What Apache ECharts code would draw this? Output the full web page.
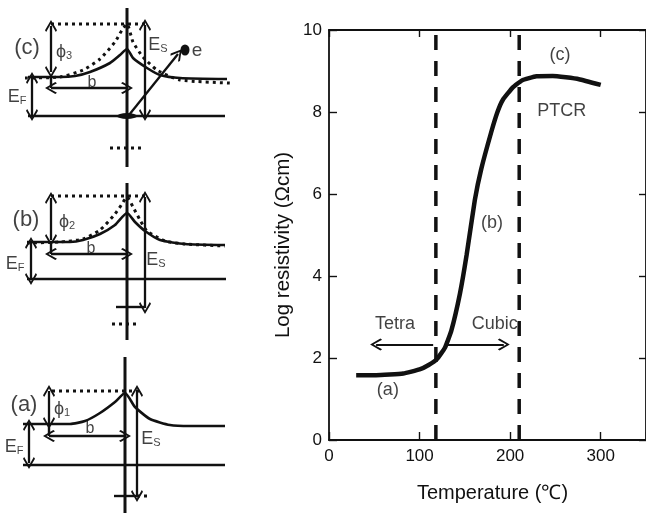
<!DOCTYPE html>
<html><head><meta charset="utf-8">
<style>html,body{margin:0;padding:0;background:#fff}#c{width:646px;height:514px}</style>
<script src="https://cdn.jsdelivr.net/npm/echarts@6/dist/echarts.min.js"></script>
</head><body><div id="c"></div>
<script>
// ---- Main graph data (temperature in deg C, log resistivity) ----
const curve = [[30,1.58],[52,1.58],[82,1.62],[100,1.72],[110,1.83],[119,1.97],[128,2.25],[135,2.66],[144.5,3.56],[152,4.52],[161,5.85],[168,6.6],[179,7.5],[186,8.0],[192,8.3],[203,8.6],[213,8.77],[229,8.87],[247,8.88],[276,8.8],[300,8.66]];
const phaseT1 = [[118,0],[118,9.9]];
const phaseT2 = [[210,0],[210,9.9]];
const xTicks = [0,100,200,300];
const yTicks = [0,2,4,6,8,10];
const graphArrows = [[[115,2.33],[52,2.33]],[[128,2.33],[193,2.33]]];
const graphText = [[255,9.4,'(c)'],[257,8.03,'PTCR'],[180,5.3,'(b)'],[73,2.82,'Tetra'],[183,2.82,'Cubic'],[65,1.23,'(a)']];

// ---- Band schematics (in a 260 x 514 sketch plane, y downward) ----
const verticals = [[[127,8],[127,167]],[[127,183],[127,340]],[[125,357],[125,513]]];
const baselines = [[[28,116],[225,116]],[[27,279],[226,279]],[[23,465],[225,465]]];
const bandC = [[28,77],[60,77],[75,76],[90,72],[110,63],[120,55],[127,49],[133,58],[147,68],[160,75],[180,78],[227,79]];
const bandB = [[27,242],[70,242],[83,240],[100,234],[115,225],[127,213],[135,222],[145,231],[160,240],[185,244],[225,245]];
const bandA = [[23,424],[70,424],[85,421],[100,413],[115,402],[125,393],[135,407],[150,419],[170,425],[190,426],[225,426]];
const dotC = [[25,78],[60,77],[83,70],[100,59],[115,42],[122,30],[127,24],[133,42],[143,57],[157,70],[180,80],[230,83]];
const dotB = [[27,243],[60,242],[83,239],[100,230],[115,214],[122,204],[127,197],[133,207],[140,220],[147,231],[165,241],[185,244],[225,246]];
const dotTops = [[[51,24],[146,24]],[[51,196],[146,196]],[[52,391],[142,391]]];
const dotLows = [[[110,148],[142,148]],[[112,324],[138,324]],[[137,496],[148,496]]];
const solidTicks = [[[51,77],[51,88]],[[51,242],[51,254]],[[49,424],[49,436]],[[116,307],[145,307]],[[114,496],[137,496]]];
const arrowsBoth = [
  [[51,26],[51,72]],[[145,25],[145,115]],[[32,78],[32,115]],[[51,88],[127,88]],
  [[51,198],[51,240]],[[145,197],[145,308]],[[31,243],[31,279]],[[51,254],[127,254]],
  [[49,391],[49,423]],[[137,391],[137,496]],[[29,425],[29,463]],[[49,436],[125,436]]];
const arrowsOne = [[[129,115],[178,54]]];
const blobs = [[185,50,9,11],[127,116,20,6]];
const sketchLabels = [[27,48,'(c)',22],[26,220,'(b)',22],[24,405,'(a)',22],[92,83,'b',16],[91,249,'b',16],[90,429,'b',16],[197,51,'e',19]];
const sketchSubs = [[64,52,'ϕ','3'],[67,222,'ϕ','2'],[62,409,'ϕ','1'],[158,45,'E','S'],[156,260,'E','S'],[151,439,'E','S'],[17,97,'E','F'],[15,264,'E','F'],[14,447,'E','F']];

const FONT = '"Liberation Sans", Arial, sans-serif';
const INK = '#111';
const TEXT = '#111';
const chevron = 'path://M0,0 L10,12 L8,14 L0,4 L-8,14 L-10,12 Z';
const sk = {xAxisIndex:2, yAxisIndex:2, silent:true, animation:false};

function poly(data, width, dash, smooth){
  return Object.assign({type:'line', data, showSymbol:false, symbol:'none', smooth: smooth||false, z:3,
    lineStyle:{color:INK, width, type: dash||'solid'}}, sk);
}
function segs(list, width, dash){ return list.map(d => poly(d, width, dash)); }
function arrows(list, sym, size, width, xi, yi){
  return {type:'lines', coordinateSystem:'cartesian2d', xAxisIndex:xi, yAxisIndex:yi, silent:true, animation:false, z:4,
    symbol:sym, symbolSize:size, polyline:false,
    lineStyle:{color:INK, width, opacity:1, curveness:0},
    data:list.map(c => ({coords:c}))};
}

const series = [
  {type:'line', data:curve, smooth:0.12, symbol:'none', z:5, animation:false, lineStyle:{color:INK, width:4.5}},
  {type:'line', data:phaseT1, symbol:'none', z:4, animation:false, lineStyle:{color:INK, width:3.5, type:[15,11]}},
  {type:'line', data:phaseT2, symbol:'none', z:4, animation:false, lineStyle:{color:INK, width:3.5, type:[15,11]}},
  arrows(graphArrows, ['none', chevron], 12, 1.8, 0, 0),
  {type:'scatter', data:graphText.map(t => ({value:[t[0],t[1]], name:t[2]})), symbolSize:0, silent:true, animation:false,
    label:{show:true, position:'inside', formatter:'{b}', fontFamily:FONT, fontSize:18, color:TEXT}},
  ...segs(verticals, 3),
  ...segs(baselines, 2.6),
  poly(bandC, 2.6, null, 0.2), poly(bandB, 2.6, null, 0.2), poly(bandA, 2.6, null, 0.2),
  poly(dotC, 3, [3,4], 0.2), poly(dotB, 3, [3,4], 0.2),
  ...segs(dotTops, 3, [3,4]),
  ...segs(dotLows, 3, [3,4]),
  ...segs(solidTicks, 2.4),
  arrows(arrowsBoth, [chevron, chevron], 12, 2.3, 2, 2),
  arrows(arrowsOne, ['none', chevron], 12, 2.3, 2, 2),
  Object.assign({type:'scatter', z:6, data:blobs.map(b => ({value:[b[0],b[1]], symbolSize:[b[2],b[3]]})), itemStyle:{color:INK, opacity:1}}, sk),
  Object.assign({type:'scatter', symbolSize:0, data:sketchLabels.map(t => ({value:[t[0],t[1]], name:t[2],
    label:{show:true, position:'inside', formatter:'{b}', fontFamily:FONT, fontSize:t[3], color:TEXT}}))}, sk),
  Object.assign({type:'scatter', symbolSize:0, data:sketchSubs.map(t => ({value:[t[0],t[1]], name:t[2]+'|'+t[3]})),
    label:{show:true, position:'inside', fontFamily:FONT, color:TEXT,
      formatter:p => { const a=p.name.split('|'); return '{m|'+a[0]+'}{s|'+a[1]+'}'; },
      rich:{m:{fontFamily:FONT,fontSize:18,color:TEXT}, s:{fontFamily:FONT,fontSize:11,color:TEXT,verticalAlign:'bottom',padding:[6,0,0,0]}}}}, sk)
];

const axisLine = {show:true, onZero:false, lineStyle:{color:INK, width:1.8}};
const labelStyle = {fontFamily:FONT, fontSize:17, color:TEXT};
const hidden = {show:false};
const opt = {
  backgroundColor:'#fff', animation:false,
  grid:[
    {left:329, top:30, width:317, height:410},
    {left:329, top:30, width:317, height:410},
    {left:0, top:0, width:260, height:514}
  ],
  xAxis:[
    {type:'value', gridIndex:0, min:0, max:350, interval:100, position:'bottom', splitLine:hidden, axisLine,
     axisTick:{show:true, inside:true, length:8, lineStyle:{color:INK, width:1.4}},
     axisLabel:Object.assign({margin:8, customValues:xTicks}, labelStyle),
     name:'Temperature (℃)', nameLocation:'middle', nameGap:43,
     nameTextStyle:{fontFamily:FONT, fontSize:20, color:TEXT, padding:[0,0,0,10]}},
    {type:'value', gridIndex:1, min:0, max:350, interval:100, position:'top', splitLine:hidden, axisLine,
     axisTick:{show:true, inside:true, length:7, lineStyle:{color:INK, width:1.4}}, axisLabel:hidden},
    {type:'value', gridIndex:2, min:0, max:260, show:false}
  ],
  yAxis:[
    {type:'value', gridIndex:0, min:0, max:10, interval:2, position:'left', splitLine:hidden, axisLine,
     axisTick:{show:true, inside:true, length:8, lineStyle:{color:INK, width:1.4}},
     axisLabel:Object.assign({margin:7, customValues:yTicks}, labelStyle),
     name:'Log resistivity (Ωcm)', nameLocation:'middle', nameGap:35,
     nameTextStyle:{fontFamily:FONT, fontSize:20.5, color:TEXT, padding:[0,20,0,0]}},
    {type:'value', gridIndex:1, min:0, max:10, interval:2, position:'right', splitLine:hidden, axisLine,
     axisTick:{show:true, inside:true, length:7, lineStyle:{color:INK, width:1.4}}, axisLabel:hidden},
    {type:'value', gridIndex:2, min:0, max:514, inverse:true, show:false}
  ],
  series
};
echarts.init(document.getElementById('c'), null, {renderer:'canvas'}).setOption(opt);
</script></body></html>
